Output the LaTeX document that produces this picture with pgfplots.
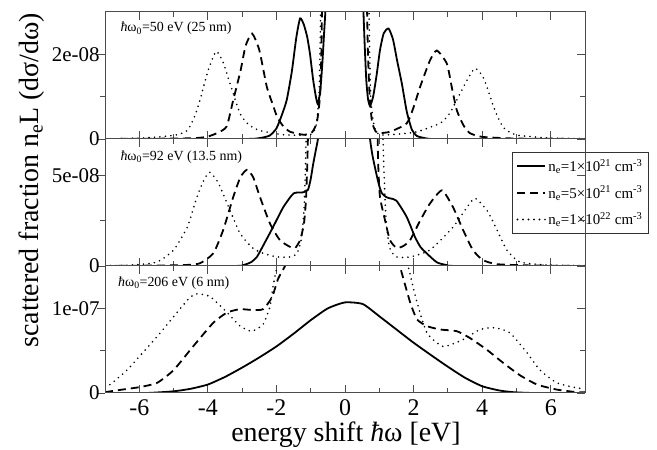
\documentclass[border=0pt]{standalone}
\usepackage{fontspec}
\setmainfont{Liberation Serif}
\usepackage{pgfplots}
\pgfplotsset{compat=1.18}

\newcommand\ytickfont{\fontsize{21}{23}\selectfont}
\newcommand\xtickfont{\fontsize{24}{26}\selectfont}
\newcommand\notefont{\fontsize{14}{16}\selectfont}
\newcommand\legfont{\fontsize{15}{17}\selectfont}

\pgfplotsset{
  panel/.style={
    width=480bp, height=127bp, scale only axis, anchor=south west,
    xmin=-7, xmax=7, xtick={-6,-4,...,6}, minor x tick num=1,
    tick align=inside, major tick length=8bp, minor tick length=5bp,
    axis line style={black!70, line width=1bp},
    tick style={black!70, line width=0.9bp},
    ytick pos=left,
    major y tick style={xshift=-8bp},
    minor y tick style={xshift=-5bp},
    yticklabel style={font=\ytickfont, xshift=-2bp},
    xticklabel style={font=\xtickfont, yshift=-3bp},
    /pgf/number format/assume math mode=true,
    unbounded coords=jump,
  },
  % overlay that only adds the inward ticks on the right side
  rticks/.style={
    width=480bp, height=127bp, scale only axis, anchor=south west,
    xmin=-7, xmax=7, xtick=\empty,
    tick align=inside, major tick length=8bp, minor tick length=5bp,
    axis line style={black!70, line width=1bp},
    tick style={black!70, line width=0.9bp},
    ytick pos=right, yticklabels={},
  },
  c1/.style={black, line width=1.8bp, no marks, smooth, tension=0.35},
  c2/.style={black, line width=1.8bp, no marks, smooth, tension=0.35, dash pattern=on 8bp off 5bp},
  c3/.style={black, line width=1.8bp, no marks, smooth, tension=0.35, line cap=round, dash pattern=on 0bp off 5.5bp},
}

\begin{document}
\begin{tikzpicture}[x=1bp, y=1bp]
\useasboundingbox (0,0) rectangle (657,450);

% top panel: 50 eV (values in units of 1e-8); the central line runs off scale
\begin{axis}[panel, at={(105bp,311bp)}, ymin=0, ymax=3,
  ytick={0,2}, yticklabels={0,2e-08}, minor ytick={1}, xticklabels={}]
\addplot[c1] coordinates {
 (-7,0) (-3,0) (-2.5,0.02) (-2.2,0.08) (-2,0.25) (-1.85,0.55) (-1.7,0.92) (-1.55,1.6)
 (-1.42,2.4) (-1.31,2.85) (-1.2,2.7) (-1.1,2.4) (-1.02,2.0) (-0.93,1.4) (-0.85,1.0)
 (-0.79,0.82) (-0.72,1.15) (-0.66,1.8) (-0.61,2.5) (-0.56,3.2) (-0.53,4)
 (0,nan)
 (0.51,4) (0.53,3.2) (0.57,2.3) (0.62,1.4) (0.67,0.95) (0.73,0.78) (0.82,1.0) (0.92,1.5)
 (1.02,2.1) (1.13,2.5) (1.27,2.61) (1.4,2.35) (1.52,1.85) (1.66,1.3) (1.8,0.65)
 (1.95,0.22) (2.1,0.07) (2.4,0.01) (2.8,0) (7,0)};
\addplot[c2] coordinates {
 (-7,0) (-5,0.01) (-4.4,0.02) (-4.03,0.05) (-3.7,0.15) (-3.45,0.3) (-3.26,0.92) (-3.05,1.6)
 (-2.9,2.2) (-2.71,2.49) (-2.5,2.1) (-2.28,1.23) (-2.1,0.8) (-1.98,0.52) (-1.8,0.3)
 (-1.6,0.17) (-1.2,0.1) (-0.96,0.16) (-0.82,0.4) (-0.73,1.0) (-0.69,2.0) (-0.67,3.2)
 (-0.66,4)
 (0,nan)
 (0.63,4) (0.64,3.2) (0.67,2.0) (0.72,1.0) (0.79,0.4) (0.93,0.15) (1.31,0.17)
 (1.8,0.37) (2.0,0.75) (2.19,1.23) (2.48,1.86) (2.68,2.09) (2.97,1.78) (3.12,1.2)
 (3.26,0.68) (3.45,0.33) (3.64,0.14) (4.0,0.05) (5,0.01) (7,0)};
\addplot[c3] coordinates {
 (-7,0) (-6,0.02) (-5.4,0.05) (-4.9,0.1) (-4.6,0.2) (-4.4,0.5) (-4.23,0.92) (-4.0,1.6)
 (-3.76,2.07) (-3.55,1.8) (-3.35,1.3) (-3.06,0.6) (-2.8,0.33) (-2.48,0.2) (-1.8,0.1)
 (-1.02,0.1) (-0.85,0.3) (-0.76,1.0) (-0.72,2.5) (-0.7,4)
 (0,nan)
 (0.68,4) (0.71,2.5) (0.75,1.0) (0.85,0.3) (1.02,0.1) (1.6,0.12) (2.1,0.17)
 (2.77,0.37) (3.05,0.6) (3.26,0.92) (3.56,1.39) (3.79,1.67) (4.0,1.5) (4.14,1.23)
 (4.37,0.68) (4.6,0.29) (4.85,0.14) (5.1,0.08) (6,0.02) (7,0.01)};
\node[anchor=west, font=\notefont] at (rel axis cs:0.025,0.87)
  {\textit{ħ}ω\textsubscript{0}=50 eV (25 nm)};
\end{axis}
\begin{axis}[rticks, at={(105bp,311bp)}, ymin=0, ymax=3, ytick={0,2}, minor ytick={1}]
\end{axis}

% middle panel: 92 eV (values in units of 1e-8)
\begin{axis}[panel, at={(105bp,184bp)}, ymin=0, ymax=7,
  ytick={0,5}, yticklabels={0,5e-08}, minor ytick={2.5}, xticklabels={},
  legend cell align=left,
  legend style={at={(0.848,0.898)}, anchor=north west, draw=black!80,
    line width=1bp, fill=white, font=\legfont, inner xsep=4bp, inner ysep=5bp,
    row sep=9bp},
  legend image code/.code={
    \draw[#1] (0bp,0bp) -- (22bp,0bp);
    \path (0bp,0bp) -- (28bp,0bp);},
]
\addplot[c1] coordinates {
 (-7,0) (-3.3,0) (-2.97,0.05) (-2.75,0.2) (-2.57,0.5) (-2.3,1.43) (-2.1,2.14)
 (-1.8,3.24) (-1.5,4.0) (-1.22,4.06) (-1.08,4.2) (-1.0,4.8) (-0.93,5.6) (-0.85,6.4)
 (-0.79,7.0) (-0.75,8)
 (0,nan)
 (0.7,8) (0.73,7.0) (0.8,6.1) (0.9,5.2) (1.0,4.4) (1.08,4.0) (1.2,3.8) (1.31,3.73)
 (1.5,3.6) (1.8,2.7) (2.04,1.6) (2.2,1.05) (2.38,0.7) (2.68,0.2) (2.97,0.05) (3.3,0) (7,0)};
\addlegendentry{n\textsubscript{e}=1×10\textsuperscript{21} cm\textsuperscript{-3}}
\addplot[c2] coordinates {
 (-7,0) (-5.2,0.03) (-4.6,0.06) (-4.23,0.15) (-3.84,0.7) (-3.55,2.0) (-3.26,3.8)
 (-3.05,4.9) (-2.86,5.3) (-2.68,4.9) (-2.48,3.8) (-2.19,2.35) (-1.9,1.43) (-1.6,1.05)
 (-1.45,1.0) (-1.31,1.43) (-1.2,2.3) (-1.14,3.6) (-1.1,5.6) (-1.08,7.2) (-1.06,8.5)
 (0,nan)
 (0.94,8.5) (0.95,7.2) (0.97,5.5) (1.02,3.8) (1.17,2.5) (1.31,1.43) (1.5,1.0)
 (1.7,1.1) (1.9,1.43) (2.19,2.5) (2.48,3.45) (2.83,4.17) (3.15,3.24) (3.44,2.0)
 (3.73,0.88) (4.02,0.33) (4.43,0.1) (5.4,0.03) (7,0)};
\addlegendentry{n\textsubscript{e}=5×10\textsuperscript{21} cm\textsuperscript{-3}}
\addplot[c3] coordinates {
 (-7,0.02) (-6.2,0.05) (-5.48,0.22) (-5.0,0.88) (-4.6,2.14) (-4.32,3.8) (-4.1,4.8)
 (-3.94,5.16) (-3.7,4.6) (-3.44,3.45) (-3.06,1.8) (-2.7,1.0) (-2.39,0.7) (-1.98,0.5)
 (-1.6,0.5) (-1.4,0.7) (-1.27,1.5) (-1.2,3.0) (-1.16,5) (-1.13,7.5) (-1.12,8.5)
 (0,nan)
 (1.08,8.5) (1.1,7.5) (1.14,5) (1.2,2.5) (1.3,1.0) (1.5,0.5) (1.9,0.5) (2.48,0.88)
 (3.15,2.14) (3.56,3.24) (3.79,3.73) (4.14,3.07) (4.43,2.0) (4.72,0.88) (5.1,0.22)
 (5.9,0.05) (7,0.02)};
\addlegendentry{n\textsubscript{e}=1×10\textsuperscript{22} cm\textsuperscript{-3}}
\node[anchor=west, font=\notefont] at (rel axis cs:0.025,0.86)
  {\textit{ħ}ω\textsubscript{0}=92 eV (13.5 nm)};
\end{axis}
\begin{axis}[rticks, at={(105bp,184bp)}, ymin=0, ymax=7, ytick={0,5}, minor ytick={2.5}]
\end{axis}

% bottom panel: 206 eV (values in units of 1e-7)
\begin{axis}[panel, at={(105bp,57bp)}, ymin=0, ymax=1.5,
  ytick={0,1}, yticklabels={0,1e-07}, minor ytick={0.5}]
\addplot[c1] coordinates {
 (-7,0) (-5.8,0) (-5.0,0.02) (-4.5,0.05) (-4,0.1) (-3.5,0.19) (-3,0.3) (-2.5,0.42)
 (-2,0.55) (-1.5,0.7) (-1,0.86) (-0.5,1.0) (0,1.07) (0.52,1.05) (1.02,0.9) (1.5,0.75)
 (1.98,0.6) (2.5,0.45) (3.0,0.31) (3.5,0.18) (4.0,0.08) (4.5,0.03) (4.9,0.01) (5.5,0) (7,0)};
\addplot[c2] coordinates {
 (-7,0.01) (-6.5,0.04) (-5.98,0.07) (-5.48,0.12) (-5.0,0.27) (-4.43,0.55) (-3.84,0.83)
 (-3.44,0.95) (-3.06,0.99) (-2.7,0.98) (-2.39,0.99) (-2.13,1.13) (-1.95,1.35)
 (-1.75,1.5) (-1.71,1.6)
 (0,nan)
 (1.56,1.6) (1.6,1.5) (1.9,1.07) (2.1,0.87) (2.39,0.79) (2.77,0.75) (3.26,0.73)
 (3.64,0.65) (4.14,0.51) (4.6,0.36) (5.1,0.21) (5.6,0.1) (6.18,0.04) (6.76,0.01) (7,0.01)};
\addplot[c3] coordinates {
 (-7,0.07) (-6.85,0.1) (-6.36,0.27) (-5.89,0.48) (-5.39,0.71) (-4.9,0.95) (-4.52,1.13)
 (-4.32,1.17) (-3.94,1.14) (-3.44,0.95) (-3.06,0.79) (-2.72,0.73) (-2.39,0.81)
 (-2.19,1.02) (-2.1,1.26) (-1.98,1.5) (-1.95,1.6)
 (0,nan)
 (1.81,1.6) (1.84,1.5) (2.1,1.07) (2.39,0.71) (2.86,0.55) (3.44,0.63) (3.94,0.75)
 (4.37,0.77) (4.81,0.71) (5.3,0.48) (5.69,0.27) (6.18,0.12) (6.76,0.06) (7,0.05)};
\node[anchor=west, font=\notefont] at (rel axis cs:0.02,0.865)
  {\textit{ħ}ω\textsubscript{0}=206 eV (6 nm)};
\end{axis}
\begin{axis}[rticks, at={(105bp,57bp)}, ymin=0, ymax=1.5, ytick={0,1}, minor ytick={0.5}]
\end{axis}

\node[rotate=90, font=\fontsize{28}{30}\selectfont] at (32,270)
  {scattered fraction n\textsubscript{e}L (dσ/dω)};
\node[anchor=base, font=\fontsize{28}{30}\selectfont] at (346,8)
  {energy shift \textit{ħ}ω [eV]};
\end{tikzpicture}
\end{document}
